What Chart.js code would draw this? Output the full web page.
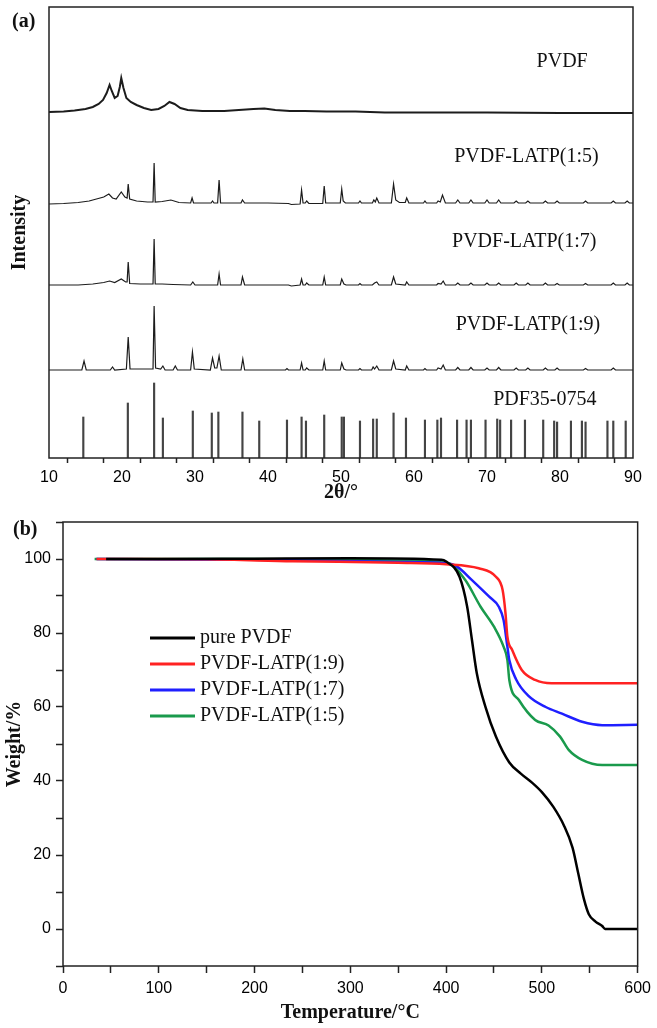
<!DOCTYPE html>
<html>
<head>
<meta charset="utf-8">
<script src="https://cdn.jsdelivr.net/npm/chart.js@4.4.0/dist/chart.umd.min.js"></script>
<style>
    html, body { margin: 0; padding: 0; background: #fff; }
    #wrapA { position: absolute; left: 0; top: 0; width: 657px; height: 505px; }
    #wrapB { position: absolute; left: 0; top: 500px; width: 657px; height: 528px; }
</style>
</head>
<body>
<div id="wrapA"><canvas id="xrdChart" width="657" height="505"></canvas></div>
<div id="wrapB"><canvas id="tgaChart" width="657" height="528"></canvas></div>
<script>
// ---- (a) XRD data: [2θ, intensity above own baseline] ----
const pvdfPattern = [
    [10,1],[12,1.5],[13.5,2.5],[15,4],[16,6],[16.8,9],[17.4,13],[17.9,20],[18.3,28],[18.6,22],[19.0,15],
    [19.4,17],[19.7,26],[19.9,35],[20.2,25],[20.6,15],[21.2,11],[22,8],[23,5],[24,3],[25,4],[25.8,7],
    [26.5,11],[27.2,9],[28,5],[29,3],[31,2],[34,2],[36,3],[38,4],[39.5,4.5],[41,3],[43,2],[45,2],
    [48,1.5],[52,1.5],[56,0.5],[62,0.5],[70,0.5],[80,0],[90,0]
];
const latp15Pattern = [
    [10,0],[12,0.5],[14,1.5],[15.5,3],[16.5,5],[17.5,7],[18.2,10],[18.7,6],[19.2,5],[19.9,12],[20.4,7],
    [20.7,6],[20.85,20],[21.05,5],[22,3],[23.5,2],[24.25,2],[24.4,41],[24.55,2],[25.5,2.5],[26.7,4],
    [27.8,1.5],[29.4,1],[29.6,6],[29.8,1],[32.2,1],[32.4,3],[32.6,1],[33.1,1],[33.3,24],[33.5,1],
    [36.3,1],[36.5,4],[36.8,1],[40,1],[42.8,0.5],[43.2,-0.5],[44.4,0],[44.6,14],[44.8,1],[45.1,1],
    [45.3,3],[45.6,0.5],[47.5,0.5],[47.7,18],[47.9,1],[49.9,1],[50.1,15],[50.3,3],[50.6,1],[52.4,1],
    [52.6,3],[52.8,1],[54.3,1],[54.5,4],[54.7,2],[54.9,6],[55.2,1],[56.9,1],[57.2,20],[57.5,4],[58,1.5],
    [58.8,1.5],[59,6],[59.3,1],[61.3,1],[61.5,3],[61.7,1],[63.1,1],[63.3,3],[63.6,2],[63.9,9],[64.3,1],
    [65.7,1],[66,4],[66.3,1],[67.5,1],[67.8,4],[68.1,1],[69.7,1],[70,4],[70.3,1],[71.3,1],[71.6,4],
    [71.9,1],[73.7,1],[74,3],[74.3,1],[75.3,1],[75.6,3],[75.9,1],[77.7,1],[78,3],[78.3,1],[79.3,1],
    [79.6,3],[79.9,1],[83.2,1],[83.5,3],[83.8,1],[87,1],[87.3,3],[87.6,1],[88.9,1],[89.2,3],[89.5,1],[90,1]
];
const latp17Pattern = [
    [10,0],[14,0],[16,1],[17.5,2.5],[18.3,4],[19,2.5],[19.9,6],[20.5,3],[20.7,3],[20.85,23],[21.05,1.5],
    [22.5,1],[24.25,1],[24.4,46],[24.55,1],[25.5,1],[27,0.5],[29.4,0],[29.7,3],[30,0],[33.1,0],[33.3,11],
    [33.5,0],[36.3,0],[36.5,8],[36.8,0],[42.8,0],[43.2,-1],[44.4,0],[44.6,6],[44.8,0],[45.1,0],[45.3,2],
    [45.6,0],[47.5,0],[47.7,8],[47.9,0],[49.9,0],[50.1,6],[50.4,1],[50.7,0],[52.4,0],[52.6,1.5],[52.8,0],
    [54.3,0],[54.6,2],[54.9,3],[55.2,0],[56.9,0],[57.2,8],[57.5,1],[58.8,0],[59,3],[59.3,0],[63.1,0],
    [63.3,1.5],[63.7,1],[64,4],[64.3,0],[65.7,0],[66,2],[66.3,0],[67.5,0],[67.8,2],[68.1,0],[69.7,0],
    [70,2],[70.3,0],[71.3,0],[71.6,2],[71.9,0],[73.7,0],[74,2],[74.3,0],[75.3,0],[75.6,2],[75.9,0],
    [77.7,0],[78,2],[78.3,0],[79.3,0],[79.6,1.5],[79.9,0],[83.2,0],[83.5,1.5],[83.8,0],[87,0],[87.3,2],
    [87.6,0],[88.9,0],[89.2,2],[89.5,0],[90,0]
];
const latp19Pattern = [
    [10,0],[14.5,0],[14.8,9],[15.1,0],[18.4,0],[18.7,3],[19,0],[20.6,1],[20.85,33],[21.1,1],[24.25,1],
    [24.4,64],[24.6,2],[25.3,1],[25.6,4],[25.9,0],[27,0],[27.3,4],[27.6,0],[29.4,0],[29.65,18],[29.9,1],
    [32.1,0],[32.4,12],[32.7,2],[33.0,2],[33.3,14],[33.6,0],[36.3,0],[36.55,11],[36.8,0],[42.4,0],
    [42.6,1.5],[42.8,0],[44.4,0],[44.6,7],[44.8,0],[45.1,0],[45.3,2],[45.6,0],[47.5,0],[47.7,9],[47.9,0],
    [49.9,0],[50.1,7],[50.4,1],[50.7,0],[52.4,0],[52.6,1.5],[52.8,0],[54.2,0],[54.4,3],[54.6,1],[54.9,4],
    [55.2,0],[56.9,0],[57.2,9],[57.5,1],[58.8,0],[59,4],[59.3,0],[61.3,0],[61.5,1.5],[61.7,0],[63.1,0],
    [63.3,2],[63.7,1],[64,5],[64.3,0],[65.7,0],[66,2.5],[66.3,0],[67.5,0],[67.8,2.5],[68.1,0],[69.7,0],
    [70,2],[70.3,0],[71.3,0],[71.6,2.5],[71.9,0],[73.7,0],[74,2],[74.3,0],[75.3,0],[75.6,2],[75.9,0],
    [77.7,0],[78,2],[78.3,0],[79.3,0],[79.6,2],[79.9,0],[83.2,0],[83.5,1.5],[83.8,0],[87,0],[87.3,2],
    [87.6,0],[90,0]
];
// PDF35-0754 reference lines
const pdfPositions = [14.7,20.8,24.4,25.6,29.7,32.3,33.2,36.5,38.8,42.6,44.6,45.2,47.7,50.1,50.4,52.6,54.4,54.9,57.2,58.9,
    61.5,63.2,63.7,65.9,67.2,67.8,69.8,71.4,71.8,73.3,75.2,77.7,79.2,79.6,81.5,83.0,83.5,86.5,87.3,89.0];
const pdfIntensity = [41,55,75,40,47,45,46,46,37,38,41,37,43,41,41,37,39,39,45,40,
    38,38,40,38,38,38,38,39,38,38,38,38,37,36,37,37,36,37,37,37];
const patternNames = ['PVDF', 'PVDF-LATP(1:5)', 'PVDF-LATP(1:7)', 'PVDF-LATP(1:9)', 'PDF35-0754'];

// ---- (b) TGA data ----
const tgaLabels = ['pure PVDF', 'PVDF-LATP(1:9)', 'PVDF-LATP(1:7)', 'PVDF-LATP(1:5)'];
const tempPure = [45,100,200,300,395,400,414,422,427,432,441,452,466,478,490,500,512,523,532,538,544,549,556,563,566,600];
const weightPure = [100,100,100.1,100.2,99.8,99.3,95.2,87.1,78.1,69.2,60.1,52,45,42,39.5,37,33,28,22,15,8,4,2,0.8,0,0];
const temp19 = [35,150,240,350,400,434,452,459,462,464,469,479,493,510,600];
const weight19 = [100,99.9,99.4,99,98.6,97.5,95.2,91.6,85.4,79,75.4,70,67.3,66.4,66.4];
const temp17 = [35,200,350,400,410,427,445,455,460,464,466,473,486,504,521,542,563,600];
const weight17 = [100,99.8,99.2,98.8,98.2,94.3,89.8,87.1,83.5,76.3,72.7,67.5,63,60,58.2,56,55.1,55.2];
const temp15 = [33,200,350,403,420,436,450,460,464,466,476,493,507,519,528,542,563,600];
const weight15 = [100,100,99.6,98.8,94.3,87.1,81.7,76.3,72.7,67.3,61.9,56.5,55,52,48.4,45.7,44.3,44.3];

// 佈局設定
const patternOffsets = [345, 254, 173, 88];
const tgaColors = ['#000000', '#ff2222', '#1f1fff', '#1a9a4c'];
const serif = 'Liberation Serif';
const sans = 'Liberation Sans';

// 畫外框
const framePlugin = {
    id: 'frame',
    afterDatasetsDraw(chart) {
        const a = chart.chartArea;
        const ctx = chart.ctx;
        ctx.save();
        ctx.strokeStyle = '#222';
        ctx.lineWidth = 1.5;
        ctx.strokeRect(a.left, a.top, a.right - a.left, a.bottom - a.top);
        ctx.restore();
    }
};

// 文字標註
const textPlugin = {
    id: 'textLabels',
    afterDraw(chart, args, opts) {
        const ctx = chart.ctx;
        ctx.save();
        (opts.items || []).forEach(it => {
            let x = it.x, y = it.y;
            if (it.data) {
                x = chart.scales.x.getPixelForValue(it.x);
                y = chart.scales.y.getPixelForValue(it.y);
            }
            ctx.font = it.font;
            ctx.fillStyle = '#111';
            ctx.textAlign = it.align || 'left';
            ctx.textBaseline = 'middle';
            ctx.fillText(it.text, x, y);
        });
        ctx.restore();
    }
};

// 圖例
const legendPlugin = {
    id: 'innerLegend',
    afterDraw(chart, args, opts) {
        if (!opts.show) return;
        const ctx = chart.ctx;
        ctx.save();
        chart.data.datasets.forEach((ds, i) => {
            const y = opts.top + i * opts.rowHeight;
            ctx.strokeStyle = ds.borderColor;
            ctx.lineWidth = 3;
            ctx.beginPath();
            ctx.moveTo(opts.left, y);
            ctx.lineTo(opts.left + opts.lineLength, y);
            ctx.stroke();
            ctx.font = '20px "' + serif + '"';
            ctx.fillStyle = '#111';
            ctx.textAlign = 'left';
            ctx.textBaseline = 'middle';
            ctx.fillText(ds.label, opts.left + opts.lineLength + 5, y);
        });
        ctx.restore();
    }
};

function toPoints(pairs, off) {
    return pairs.map(p => ({ x: p[0], y: p[1] + off }));
}

try {
    // (a) XRD
    const patterns = [pvdfPattern, latp15Pattern, latp17Pattern, latp19Pattern];
    const xrdDatasets = patterns.map((pat, i) => ({
        type: 'line',
        label: patternNames[i],
        data: toPoints(pat, patternOffsets[i]),
        borderColor: '#1c1c1c',
        borderWidth: i === 0 ? 2 : 1.2,
        pointRadius: 0,
        tension: 0,
        fill: false
    }));
    xrdDatasets.push({
        type: 'bar',
        label: patternNames[4],
        data: pdfPositions.map((p, i) => ({ x: p, y: pdfIntensity[i] })),
        backgroundColor: '#444',
        barThickness: 1.5,
        grouped: false
    });

    new Chart(document.getElementById('xrdChart'), {
        type: 'line',
        data: { datasets: xrdDatasets },
        options: {
            responsive: false,
            animation: false,
            devicePixelRatio: 1,
            layout: { padding: { top: 7, right: 24, left: 0, bottom: 0 } },
            scales: {
                x: {
                    type: 'linear', min: 10, max: 90, offset: false,
                    border: { display: false },
                    grid: { display: true, drawOnChartArea: false, drawTicks: true, tickLength: 5, tickColor: '#222', tickWidth: 1.5 },
                    ticks: {
                        stepSize: 5, autoSkip: false, maxRotation: 0, padding: 5, color: '#000',
                        font: { family: sans, size: 16 },
                        callback: v => (v % 10 === 0 ? v : '')
                    },
                    title: { display: true, text: '2θ/°', color: '#111', font: { family: serif, size: 20, weight: 'bold' }, padding: { top: 0, bottom: 0 } },
                    afterFit: s => { s.height = 47; }
                },
                y: {
                    type: 'linear', min: 0, max: 451,
                    border: { display: false },
                    grid: { display: false },
                    ticks: { display: false },
                    title: { display: true, text: 'Intensity', color: '#111', font: { family: serif, size: 20, weight: 'bold' }, padding: { top: 8, bottom: 0 } },
                    afterFit: s => { s.width = 49; }
                }
            },
            plugins: {
                legend: { display: false },
                tooltip: { enabled: false },
                textLabels: {
                    items: [
                        { text: '(a)', x: 12, y: 22, font: 'bold 20px "' + serif + '"' },
                        { text: patternNames[0], data: true, x: 83.8, y: 396, align: 'right', font: '20px "' + serif + '"' },
                        { text: patternNames[1], data: true, x: 85.3, y: 301, align: 'right', font: '20px "' + serif + '"' },
                        { text: patternNames[2], data: true, x: 85.0, y: 216, align: 'right', font: '20px "' + serif + '"' },
                        { text: patternNames[3], data: true, x: 85.5, y: 133, align: 'right', font: '20px "' + serif + '"' },
                        { text: patternNames[4], data: true, x: 85.0, y: 58, align: 'right', font: '20px "' + serif + '"' }
                    ]
                }
            }
        },
        plugins: [framePlugin, textPlugin]
    });

    // (b) TGA
    const tgaSets = [[tempPure, weightPure], [temp19, weight19], [temp17, weight17], [temp15, weight15]];
    new Chart(document.getElementById('tgaChart'), {
        type: 'line',
        data: {
            datasets: tgaSets.map((s, i) => ({
                label: tgaLabels[i],
                data: s[0].map((t, j) => ({ x: t, y: s[1][j] })),
                borderColor: tgaColors[i],
                borderWidth: 2.5,
                pointRadius: 0,
                cubicInterpolationMode: 'monotone',
                fill: false
            }))
        },
        options: {
            responsive: false,
            animation: false,
            devicePixelRatio: 1,
            layout: { padding: { top: 22, right: 18, left: 0, bottom: 0 } },
            scales: {
                x: {
                    type: 'linear', min: 0, max: 600,
                    border: { display: false },
                    grid: { display: true, drawOnChartArea: false, drawTicks: true, tickLength: 7, tickColor: '#222', tickWidth: 1.5 },
                    ticks: {
                        stepSize: 50, autoSkip: false, maxRotation: 0, padding: 6, color: '#000',
                        font: { family: sans, size: 16 },
                        callback: v => (v % 100 === 0 ? v : '')
                    },
                    title: { display: true, text: 'Temperature/°C', color: '#111', font: { family: serif, size: 20, weight: 'bold' }, padding: { top: 0, bottom: 3 } },
                    afterFit: s => { s.height = 62; }
                },
                y: {
                    type: 'linear', min: -10, max: 110,
                    border: { display: false },
                    grid: { display: true, drawOnChartArea: false, drawTicks: true, tickLength: 7, tickColor: '#222', tickWidth: 1.5 },
                    ticks: {
                        stepSize: 10, autoSkip: false, padding: 5, color: '#000',
                        font: { family: sans, size: 16 },
                        callback: v => (v >= 0 && v <= 100 && v % 20 === 0 ? v : '')
                    },
                    title: { display: true, text: 'Weight/%', color: '#111', font: { family: serif, size: 20, weight: 'bold' }, padding: { top: 3, bottom: 0 } },
                    afterFit: s => { s.width = 63; }
                }
            },
            plugins: {
                legend: { display: false },
                tooltip: { enabled: false },
                innerLegend: { show: true, left: 150, top: 138, rowHeight: 26, lineLength: 45 },
                textLabels: {
                    items: [
                        { text: '(b)', x: 13, y: 30, font: 'bold 20px "' + serif + '"' }
                    ]
                }
            }
        },
        plugins: [framePlugin, textPlugin, legendPlugin]
    });
} catch (error) {
    console.error('Error initializing charts:', error);
}
</script>
</body>
</html>
